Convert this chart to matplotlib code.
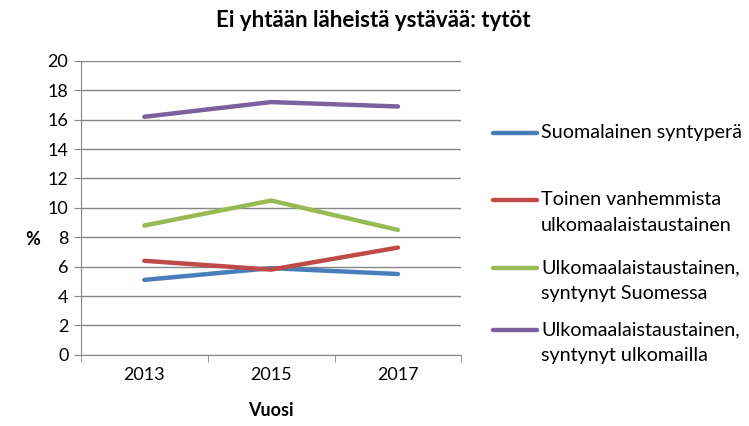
import numpy as np
import matplotlib.pyplot as plt
from matplotlib.lines import Line2D

plt.rcParams['font.family'] = ['Lato', 'DejaVu Sans']

vuodet = ['2013', '2015', '2017']
suomalainen = [5.1, 5.9, 5.5]
toinen = [6.4, 5.8, 7.3]
synt_suomessa = [8.8, 10.5, 8.5]
synt_ulkomailla = [16.2, 17.2, 16.9]

nimet = ['Suomalainen syntyperä',
         'Toinen vanhemmista\nulkomaalaistaustainen',
         'Ulkomaalaistaustainen,\nsyntynyt Suomessa',
         'Ulkomaalaistaustainen,\nsyntynyt ulkomailla']
varit = ['#4A7EBB', '#BE4B48', '#98B954', '#7D60A0']
sarjat = [suomalainen, toinen, synt_suomessa, synt_ulkomailla]

fig = plt.figure(figsize=(7.49, 4.26), dpi=100)
ax = fig.add_axes([0.108, 0.167, 0.508, 0.690])

x = np.arange(len(vuodet))
for arvot, vari in zip(sarjat, varit):
    ax.plot(x, arvot, color=vari, lw=3.2, solid_capstyle='round', zorder=3)

ax.set_xlim(-0.5, len(vuodet) - 0.5)
ax.set_ylim(0, 20)
ax.set_yticks(np.arange(0, 21, 2))
ax.set_xticks(x)
ax.set_xticklabels(vuodet)
ax.set_xticks(np.arange(-0.5, len(vuodet)), minor=True)
ax.tick_params(axis='x', which='major', length=0, labelsize=13, pad=9)
ax.tick_params(axis='x', which='minor', length=5, color='#868686', direction='out')
ax.tick_params(axis='y', length=5, color='#868686', labelsize=13, pad=4)
ax.grid(axis='y', color='#868686', lw=1)
ax.set_axisbelow(True)
for s in ['top', 'right']:
    ax.spines[s].set_visible(False)
for s in ['left', 'bottom']:
    ax.spines[s].set_color('#868686')

fig.text(0.498, 0.953, 'Ei yhtään läheistä ystävää: tytöt', ha='center', va='center',
         fontsize=16, fontweight='bold')
fig.text(0.043, 0.437, '%', ha='center', va='center', fontsize=13, fontweight='bold')
fig.text(0.362, 0.037, 'Vuosi', ha='center', va='center', fontsize=13, fontweight='bold')

# legend drawn by hand to keep Excel-like spacing
leg_y = [133, 200, 268, 330]
for yy, nimi, vari in zip(leg_y, nimet, varit):
    yf = 1 - yy / 426
    fig.add_artist(Line2D([493 / 749, 537 / 749], [yf, yf], color=vari, lw=3.2,
                          solid_capstyle='round', transform=fig.transFigure))
    fig.text(541 / 749, yf + 9 / 426, nimi, ha='left', va='top', fontsize=14.2,
             linespacing=1.65)

fig.savefig('out.png', dpi=100)
